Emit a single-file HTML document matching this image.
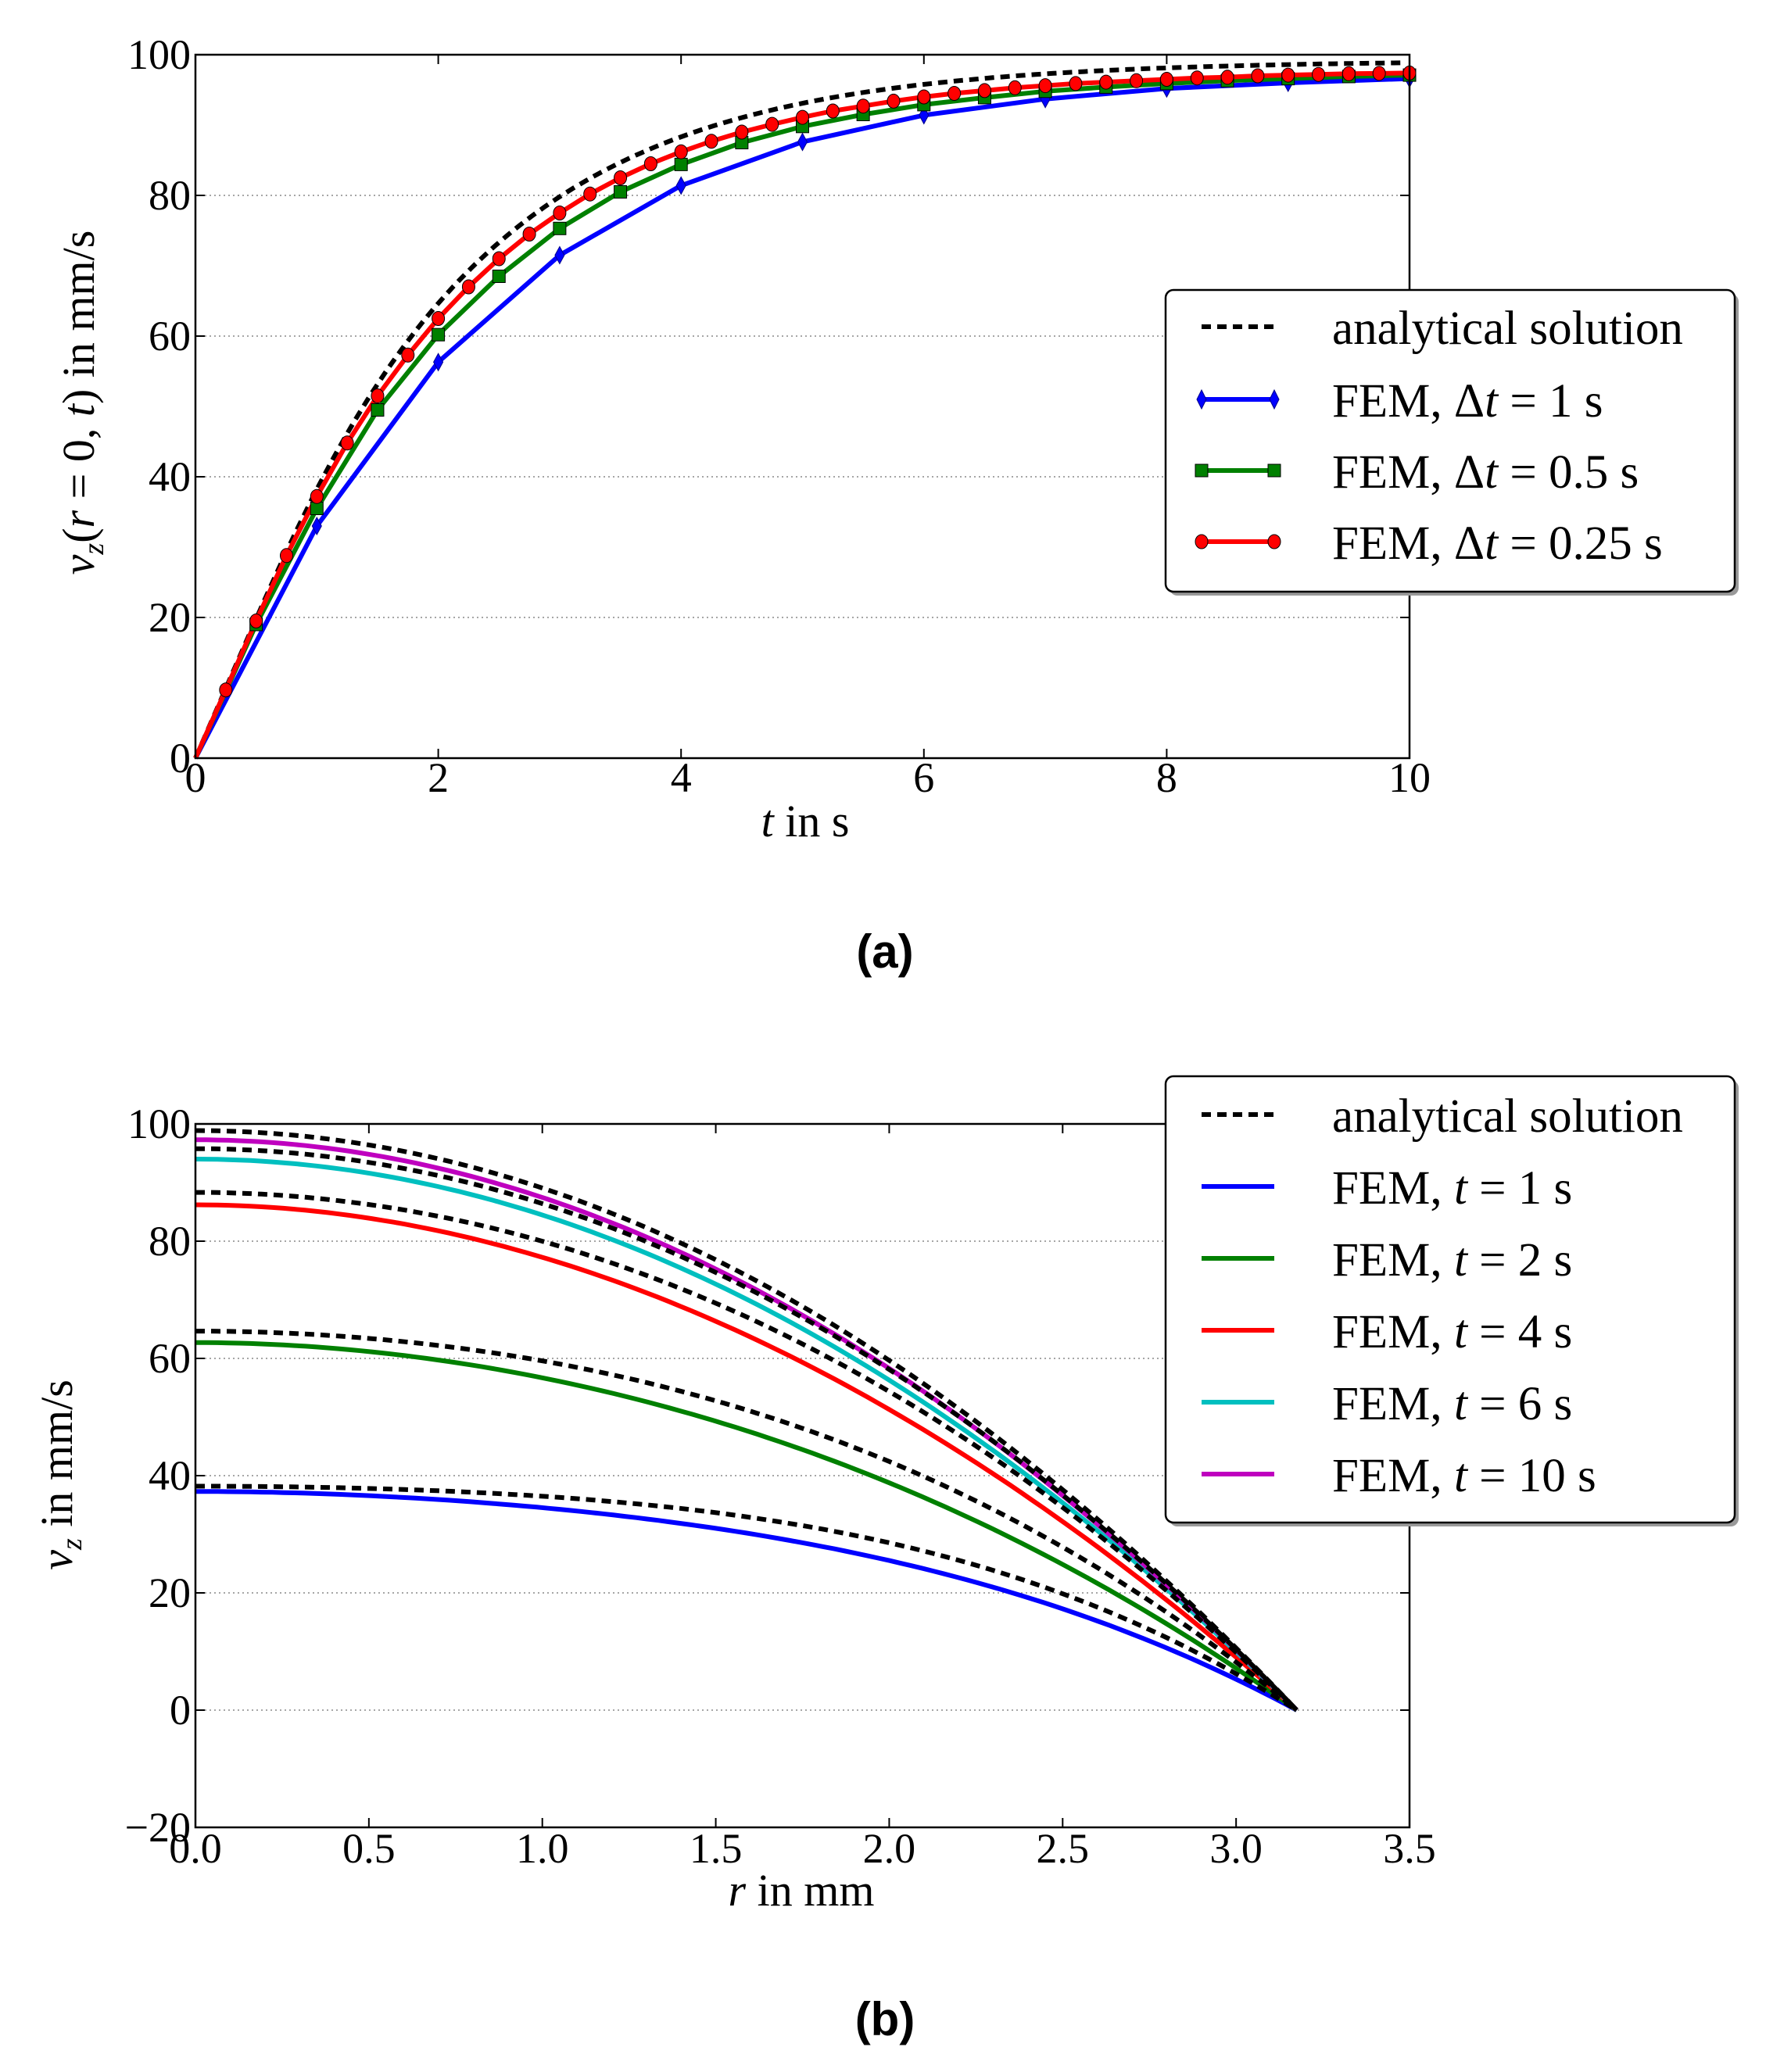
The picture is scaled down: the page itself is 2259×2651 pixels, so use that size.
<!DOCTYPE html>
<html><head><meta charset="utf-8">
<style>
html,body{margin:0;padding:0;background:#fff;}
svg{display:block;}
text{font-family:"Liberation Serif",serif;fill:#000;}
</style></head>
<body>
<svg id="s" width="2259" height="2651" viewBox="0 0 2259 2651" xmlns="http://www.w3.org/2000/svg">
<rect width="2259" height="2651" fill="#fff"/>
<g id="gridA" stroke="#888" stroke-width="1.5" stroke-dasharray="2,4"></g>
<g id="gridB" stroke="#888" stroke-width="1.5" stroke-dasharray="2,4"></g>
<g id="dataA"></g>
<g id="dataB"></g>
<rect x="250" y="70" width="1553" height="900" fill="none" stroke="#000" stroke-width="2.5"/>
<rect x="250" y="1438" width="1553" height="900" fill="none" stroke="#000" stroke-width="2.5"/>
<g id="ticks" stroke="#000" stroke-width="2"></g>
<g font-size="54" text-anchor="middle" id="xlabA">
<text x="250" y="1013">0</text><text x="560.6" y="1013">2</text><text x="871.2" y="1013">4</text><text x="1181.8" y="1013">6</text><text x="1492.4" y="1013">8</text><text x="1803" y="1013">10</text>
</g>
<g font-size="54" text-anchor="end">
<text x="244" y="988">0</text><text x="244" y="808">20</text><text x="244" y="628">40</text><text x="244" y="448">60</text><text x="244" y="268">80</text><text x="244" y="88">100</text>
</g>
<text x="1030" y="1070" font-size="58" text-anchor="middle"><tspan font-style="italic">t</tspan> in s</text>
<text transform="translate(120,515) rotate(-90)" font-size="58" text-anchor="middle"><tspan font-style="italic">v</tspan><tspan font-style="italic" font-size="38" dy="12">z</tspan><tspan dy="-12">(</tspan><tspan font-style="italic">r</tspan> = 0, <tspan font-style="italic">t</tspan>) in mm/s</text>
<text x="1132" y="1238" font-size="60" text-anchor="middle" font-weight="bold" style="font-family:'Liberation Sans',sans-serif">(a)</text>

<g font-size="54" text-anchor="middle">
<text x="250" y="2383">0.0</text><text x="471.9" y="2383">0.5</text><text x="693.7" y="2383">1.0</text><text x="915.6" y="2383">1.5</text><text x="1137.4" y="2383">2.0</text><text x="1359.3" y="2383">2.5</text><text x="1581.1" y="2383">3.0</text><text x="1803" y="2383">3.5</text>
</g>
<g font-size="54" text-anchor="end">
<text x="244" y="2356">−20</text><text x="244" y="2206">0</text><text x="244" y="2056">20</text><text x="244" y="1906">40</text><text x="244" y="1756">60</text><text x="244" y="1606">80</text><text x="244" y="1456">100</text>
</g>
<text x="1025" y="2438" font-size="58" text-anchor="middle"><tspan font-style="italic">r</tspan> in mm</text>
<text transform="translate(92,1887) rotate(-90)" font-size="58" text-anchor="middle"><tspan font-style="italic">v</tspan><tspan font-style="italic" font-size="38" dy="12">z</tspan><tspan dy="-12"> in mm/s</tspan></text>
<text x="1132" y="2604" font-size="60" text-anchor="middle" font-weight="bold" style="font-family:'Liberation Sans',sans-serif">(b)</text>

<!-- legend A -->
<rect x="1496" y="376" width="728" height="386" rx="10" fill="#999"/>
<rect x="1491" y="371" width="728" height="386" rx="10" fill="#fff" stroke="#000" stroke-width="2.5"/>
<line x1="1537" y1="418" x2="1630" y2="418" stroke="#000" stroke-width="6" stroke-dasharray="12,8"/>
<line x1="1537" y1="511" x2="1630" y2="511" stroke="#0000ff" stroke-width="6"/>
<path d="M1537 499 l6 12 l-6 12 l-6 -12z M1630 499 l6 12 l-6 12 l-6 -12z" fill="#0000ff" stroke="#00008b" stroke-width="1"/>
<line x1="1537" y1="602" x2="1630" y2="602" stroke="#008000" stroke-width="6"/>
<rect x="1529" y="594" width="16" height="16" fill="#008000" stroke="#000" stroke-width="1"/><rect x="1622" y="594" width="16" height="16" fill="#008000" stroke="#000" stroke-width="1"/>
<line x1="1537" y1="693" x2="1630" y2="693" stroke="#ff0000" stroke-width="6"/>
<ellipse cx="1537" cy="693" rx="8" ry="9" fill="#ff0000" stroke="#000" stroke-width="1"/><ellipse cx="1630" cy="693" rx="8" ry="9" fill="#ff0000" stroke="#000" stroke-width="1"/>
<g font-size="61">
<text x="1704" y="440">analytical solution</text>
<text x="1704" y="533">FEM, Δ<tspan font-style="italic">t</tspan> = 1 s</text>
<text x="1704" y="624">FEM, Δ<tspan font-style="italic">t</tspan> = 0.5 s</text>
<text x="1704" y="715">FEM, Δ<tspan font-style="italic">t</tspan> = 0.25 s</text>
</g>

<!-- legend B -->
<rect x="1496" y="1382" width="728" height="571" rx="10" fill="#999"/>
<rect x="1491" y="1377" width="728" height="571" rx="10" fill="#fff" stroke="#000" stroke-width="2.5"/>
<line x1="1537" y1="1426" x2="1630" y2="1426" stroke="#000" stroke-width="6" stroke-dasharray="12,8"/>
<line x1="1537" y1="1518" x2="1630" y2="1518" stroke="#0000ff" stroke-width="6"/>
<line x1="1537" y1="1610" x2="1630" y2="1610" stroke="#008000" stroke-width="6"/>
<line x1="1537" y1="1702" x2="1630" y2="1702" stroke="#ff0000" stroke-width="6"/>
<line x1="1537" y1="1794" x2="1630" y2="1794" stroke="#00bfbf" stroke-width="6"/>
<line x1="1537" y1="1886" x2="1630" y2="1886" stroke="#bf00bf" stroke-width="6"/>
<g font-size="61">
<text x="1704" y="1448">analytical solution</text>
<text x="1704" y="1540">FEM, <tspan font-style="italic">t</tspan> = 1 s</text>
<text x="1704" y="1632">FEM, <tspan font-style="italic">t</tspan> = 2 s</text>
<text x="1704" y="1724">FEM, <tspan font-style="italic">t</tspan> = 4 s</text>
<text x="1704" y="1816">FEM, <tspan font-style="italic">t</tspan> = 6 s</text>
<text x="1704" y="1908">FEM, <tspan font-style="italic">t</tspan> = 10 s</text>
</g>
</svg>
<script>
(function(){
var NS="http://www.w3.org/2000/svg";
function el(p,n,a){var e=document.createElementNS(NS,n);for(var k in a)e.setAttribute(k,a[k]);p.appendChild(e);return e;}
var gA=document.getElementById('gridA'),gB=document.getElementById('gridB'),tk=document.getElementById('ticks');
for(var v=20;v<=80;v+=20){el(gA,'line',{x1:250,x2:1803,y1:970-9*v,y2:970-9*v});}
for(var v=0;v<=80;v+=20){el(gB,'line',{x1:250,x2:1803,y1:2188-7.5*v,y2:2188-7.5*v});}
function tick(x,y,dx,dy){el(tk,'line',{x1:x,y1:y,x2:x+dx,y2:y+dy});}
for(var i=0;i<=5;i++){var x=250+310.6*i;tick(x,970,0,-12);tick(x,70,0,12);var y=970-180*i;tick(250,y,12,0);tick(1803,y,-12,0);}
for(var i=0;i<=7;i++){var x=250+221.86*i;tick(x,2338,0,-12);tick(x,1438,0,12);}
for(var i=0;i<=6;i++){var y=2338-150*i;tick(250,y,12,0);tick(1803,y,-12,0);}
var lam=[2.4048,5.5201,8.6537,11.7915,14.9309,18.0711,21.2116,24.3525,27.4935,30.6346];
var j1=[0.5191,-0.3403,0.2715,-0.2325,0.2065,-0.1877,0.1733,-0.1617,0.1522,-0.1442];
function J0(x){var s=0,t=1;for(var k=0;k<60;k++){if(k>0)t*=-(x*x/4)/(k*k);s+=t;}return s;}
var VM=99.2,a=0.1;
function ana(rho,t){var s=1-rho*rho;for(var n=0;n<10;n++){s-=8/(Math.pow(lam[n],3)*j1[n])*J0(lam[n]*rho)*Math.exp(-lam[n]*lam[n]*a*t);}return VM*s;}
var dA=document.getElementById('dataA');
function XA(t){return 250+155.3*t;} function YA(v){return 970-9*v;}
function seriesA(pts,dt,col){var p=[[0,0]];for(var i=0;i<pts.length;i++)p.push([(i+1)*dt,pts[i]]);
 el(dA,'polyline',{points:p.map(function(q){return XA(q[0]).toFixed(1)+','+YA(q[1]).toFixed(1);}).join(' '),fill:'none',stroke:col,'stroke-width':6,'stroke-linejoin':'round'});
 return p;}
function marks(p,col,mk){for(var i=1;i<p.length;i++){var x=XA(p[i][0]),y=YA(p[i][1]);
 if(mk=='d')el(dA,'path',{d:'M'+x+' '+(y-11)+' l6 11 l-6 11 l-6 -11z',fill:col,stroke:'#00008b','stroke-width':1});
 else if(mk=='s')el(dA,'rect',{x:x-8,y:y-8,width:16,height:16,fill:col,stroke:'#000','stroke-width':1});
 else el(dA,'ellipse',{cx:x,cy:y,rx:8,ry:9,fill:col,stroke:'#000','stroke-width':1});}}
var ap=[];for(var t=0.02;t<=10.001;t+=0.05)ap.push(XA(t).toFixed(1)+','+YA(Math.max(0,ana(0,t))).toFixed(1));
ap.unshift(XA(0)+','+YA(0));
var blue=[33,56.3,71.5,81.4,87.6,91.4,93.7,95.2,96,96.6];
var green=[19,35.5,49.5,60.2,68.5,75.3,80.5,84.4,87.5,89.8,91.5,92.9,93.9,94.8,95.4,95.9,96.3,96.6,96.9,97.1];
var red=[9.7,19.5,28.8,37.2,44.8,51.5,57.3,62.5,67,71,74.5,77.5,80.2,82.5,84.5,86.2,87.7,89,90.1,91.1,92,92.7,93.4,94,94.5,94.9,95.3,95.6,95.9,96.1,96.3,96.5,96.7,96.8,97,97.1,97.2,97.3,97.35,97.4];
var pb=seriesA(blue,1,'#0000ff');var pg=seriesA(green,0.5,'#008000');
el(dA,'polyline',{points:ap.join(' '),fill:'none',stroke:'#000','stroke-width':6,'stroke-dasharray':'12,8'});
var pr=seriesA(red,0.25,'#ff0000');
marks(pb,'#0000ff','d');marks(pg,'#008000','s');marks(pr,'#ff0000','o');
var dB=document.getElementById('dataB');var R=3.175;
function XB(r){return 250+443.7*r;} function YB(v){return 2188-7.5*v;}
var T=[1,2,4,6,10],cols=['#0000ff','#008000','#ff0000','#00bfbf','#bf00bf'],fc=[37.3,62.7,86.2,94,97.3],gk=[16,16,12,5,3];
for(var k=0;k<T.length;k++){var c0=ana(0,T[k]),f=fc[k]/c0,pf=[];
 for(var i=0;i<=100;i++){var rho=i/100,r=R*rho;var v=ana(rho,T[k])*f-gk[k]*rho*rho*(1-rho);pf.push(XB(r).toFixed(1)+','+YB(v).toFixed(1));}
 el(dB,'polyline',{points:pf.join(' '),fill:'none',stroke:cols[k],'stroke-width':6});}
for(var k=0;k<T.length;k++){var pa=[];
 for(var i=0;i<=100;i++){var r=R*i/100;pa.push(XB(r).toFixed(1)+','+YB(ana(i/100,T[k])).toFixed(1));}
 el(dB,'polyline',{points:pa.join(' '),fill:'none',stroke:'#000','stroke-width':6,'stroke-dasharray':'12,8'});}
})();
</script>
</body></html>
